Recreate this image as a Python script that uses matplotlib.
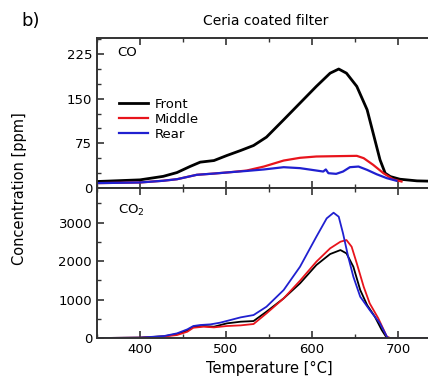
import matplotlib
matplotlib.use("Agg")
import matplotlib.pyplot as plt
from matplotlib.ticker import MultipleLocator

# CO concentration [ppm] vs temperature [C]
co_front_t = [350, 400, 427, 443, 458, 470, 486, 501, 517, 532, 547, 567, 586, 605, 621, 631, 640, 652, 664, 671, 679, 685, 691, 702, 722, 760]
co_front = [10.7, 13.5, 19.4, 25.8, 35.9, 43.3, 46, 54.5, 62.9, 71.3, 85.4, 114.6, 142.7, 170.8, 193, 200, 193, 170.8, 131.5, 92.2, 47.2, 24.7, 19, 14.6, 11.8, 10.5]

co_middle_t = [350, 400, 427, 443, 466, 486, 505, 524, 544, 567, 586, 605, 625, 652, 660, 671, 683, 694, 704]
co_middle = [8, 9.1, 12, 14.6, 22, 24.1, 26.4, 29.2, 35.9, 46, 50.6, 52.8, 53.3, 53.9, 50, 38.8, 24.7, 14.6, 10.7]

co_rear_t = [350, 400, 427, 443, 466, 486, 505, 524, 544, 567, 586, 605, 613, 616, 619, 628, 636, 644, 654, 664, 675, 687, 698]
co_rear = [8, 9.1, 12, 14.6, 22, 24.1, 26.4, 28.5, 31, 34.8, 33.2, 29.2, 27.5, 31, 24.7, 23.6, 27.5, 34.8, 35.9, 30.3, 23, 16.3, 12]

# CO2 concentration [ppm] vs temperature [C]
co2_front_t = [350, 400, 428, 443, 455, 462, 474, 486, 501, 517, 532, 547, 567, 586, 605, 621, 633, 640, 648, 656, 664, 673, 681, 687, 760]
co2_front = [0, 10, 45, 104, 190, 294, 312, 294, 381, 424, 441, 684, 1030, 1420, 1896, 2181, 2285, 2199, 1852, 1247, 857, 554, 208, 0, 0]

co2_middle_t = [350, 400, 428, 443, 455, 462, 474, 486, 501, 517, 532, 547, 567, 586, 605, 621, 633, 640, 646, 652, 660, 667, 677, 687, 691, 760]
co2_middle = [0, 10, 40, 78, 164, 268, 294, 277, 312, 329, 364, 640, 1030, 1489, 1983, 2329, 2502, 2545, 2372, 1939, 1333, 900, 511, 35, 0, 0]

co2_rear_t = [350, 400, 428, 443, 455, 462, 470, 482, 493, 505, 517, 532, 547, 567, 586, 605, 617, 625, 631, 636, 642, 648, 656, 667, 679, 687, 689, 760]
co2_rear = [0, 10, 52, 121, 225, 312, 338, 355, 398, 467, 537, 597, 813, 1247, 1852, 2631, 3108, 3255, 3151, 2718, 2112, 1593, 1073, 727, 381, 35, 0, 0]

labels = ["Front", "Middle", "Rear"]
colors = ["black", "#e8141c", "#2020d0"]

plt.rcParams['font.family'] = ['DejaVu Sans']
plt.rcParams['lines.solid_joinstyle'] = 'round'

fig = plt.figure(figsize=(4.28, 3.85), dpi=100)
ax1 = fig.add_axes([0.2266, 0.512, 0.804, 0.389])
ax2 = fig.add_axes([0.2266, 0.122, 0.804, 0.390])

ax1.plot(co_front_t, co_front, color=colors[0], lw=2.0, label=labels[0])
ax1.plot(co_middle_t, co_middle, color=colors[1], lw=1.6, label=labels[1])
ax1.plot(co_rear_t, co_rear, color=colors[2], lw=1.6, label=labels[2])

ax2.plot(co2_front_t, co2_front, color=colors[0], lw=1.3)
ax2.plot(co2_middle_t, co2_middle, color=colors[1], lw=1.3)
ax2.plot(co2_rear_t, co2_rear, color=colors[2], lw=1.3)

for ax in (ax1, ax2):
    ax.set_xlim(350, 750)
    ax.xaxis.set_major_locator(MultipleLocator(100))
    ax.xaxis.set_minor_locator(MultipleLocator(50))
    ax.tick_params(which='both', direction='in', top=True, right=True,
                   labelsize=9.5, colors='#333333', labelcolor='black')
    ax.tick_params(which='major', length=5, width=1.2)
    ax.tick_params(which='minor', length=3, width=1)
    for s in ax.spines.values():
        s.set_linewidth(1.4)
        s.set_color('#333333')

ax1.set_ylim(0, 252)
ax1.set_yticks([0, 75, 150, 225])
ax1.yaxis.set_minor_locator(MultipleLocator(25))
ax1.tick_params(labelbottom=False)

ax2.set_ylim(0, 3900)
ax2.set_yticks([0, 1000, 2000, 3000])
ax2.yaxis.set_minor_locator(MultipleLocator(500))

ax1.text(0.06, 0.88, "CO", transform=ax1.transAxes, fontsize=9.5)
ax2.text(0.06, 0.83, "CO$_2$", transform=ax2.transAxes, fontsize=9.5)

ax1.legend(loc='upper left', bbox_to_anchor=(0.03, 0.68), frameon=False,
           fontsize=9.5, handlelength=2.2, handletextpad=0.5, labelspacing=0.15)

ax2.set_xlabel("Temperature [°C]", fontsize=10.5)
fig.text(0.045, 0.51, "Concentration [ppm]", rotation=90, ha='center', va='center', fontsize=10.5)
fig.text(0.62, 0.945, "Ceria coated filter", ha='center', va='center', fontsize=10)
fig.text(0.05, 0.945, "b)", ha='left', va='center', fontsize=13)

fig.savefig("out.png", dpi=100)
